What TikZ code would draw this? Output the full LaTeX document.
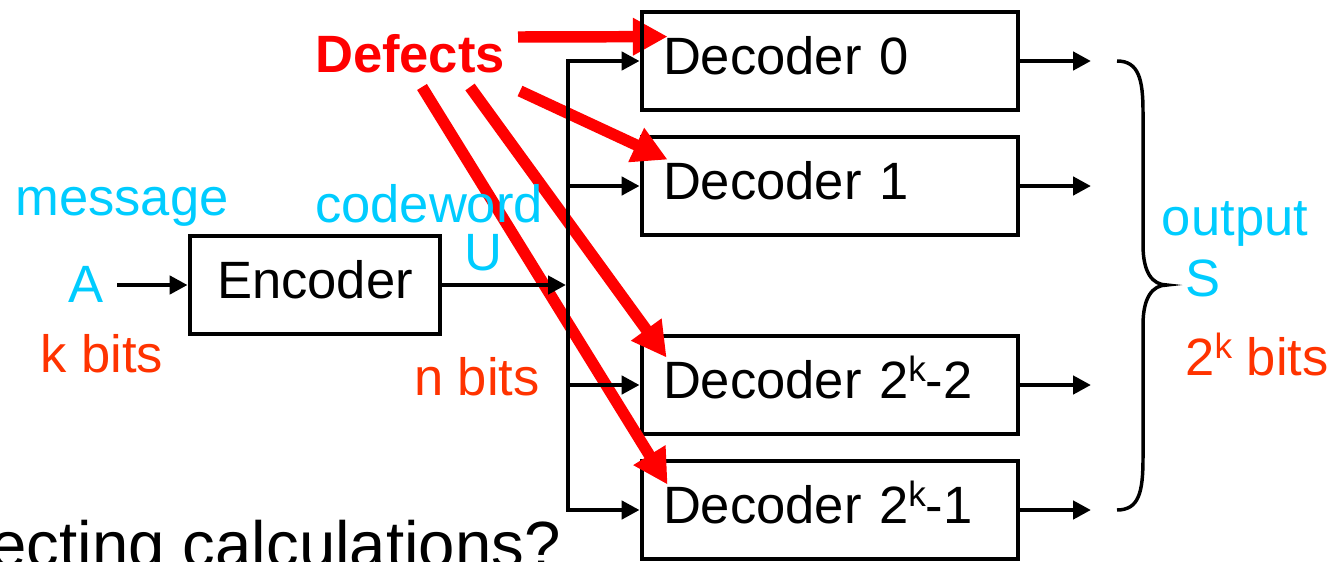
\documentclass[tikz,border=0pt]{standalone}
\usepackage{fontspec}
\setmainfont{Liberation Sans}
\usetikzlibrary{arrows.meta,calc}
\definecolor{skyc}{RGB}{0,204,255}
\definecolor{orng}{RGB}{255,51,0}
\definecolor{defred}{RGB}{255,0,0}
% raised small superscript used in the exponent 2^k
\newcommand\hisup[1]{\raisebox{0.32em}{\fontsize{26.4}{30}\selectfont #1}}
\pgfdeclarelayer{under}
\pgfdeclarelayer{defect}
\pgfsetlayers{under,defect,main}
\tikzset{
  lbl/.style={inner sep=0pt, font=\fontsize{39.4}{47}\selectfont},
  blockbox/.style={draw, line width=3.6pt, inner ysep=0pt, minimum height=73.5pt,
    text height=28pt, text depth=7.8pt, font=\fontsize{39.4}{47}\selectfont},
  decbox/.style={blockbox, inner xsep=15.75pt, text width=250.5pt, align=left,
    minimum width=282pt},
  wire/.style={line width=3.6pt},
  arr/.style={-{Triangle[length=13.5pt,width=13.5pt]}},
  hit/.style={draw=defred, line width=8.6pt, -{Triangle[length=26pt,width=26.5pt]}},
}
\begin{document}
\begin{tikzpicture}[x=0.75pt,y=-0.75pt]
\clip (0,0) rectangle (1334,561);

% ---- encoder side
\node[lbl, text=skyc, anchor=base] (msg) at (122,215) {message};
\node[lbl, text=skyc, anchor=base] (a) at (86,302) {A};
\node[lbl, text=orng, anchor=base] (kb) at (102,372) {k bits};
\node[blockbox, minimum width=187.5pt, inner xsep=0pt] (enc) at (315,285) {Encoder};
\coordinate (ain) at (117,285);
\draw[wire, arr] (ain) -- (enc.west);

\node[lbl, text=skyc, anchor=base] (cw) at (429,222) {codeword};
\node[lbl, text=skyc, anchor=base] (u) at (483,270) {U};
\node[lbl, text=orng, anchor=base] (nb) at (477,395) {n bits};

% ---- decoders
\node[decbox] (d0) at (830,61) {Decoder 0};
\begin{pgfonlayer}{under}
\node[decbox] (d1) at (830,186) {Decoder 1};
\node[decbox] (d2) at (830,385) {Decoder 2\hisup{k}-2};
\node[decbox] (d3) at (830,510) {Decoder 2\hisup{k}-1};
\end{pgfonlayer}

% ---- distribution bus
\coordinate (bx) at (568,285);
\draw[wire, {Triangle[length=13.5pt,width=13.5pt]}-{Triangle[length=13.5pt,width=13.5pt]}]
  (d0.west) -| (bx) |- (d3.west);
\draw[wire, arr] (d1.west -| bx) -- (d1.west);
\draw[wire, arr] (d2.west -| bx) -- (d2.west);
\draw[wire, arr, shorten >=1.5pt] (enc.east) -- (bx);

% ---- outputs
\coordinate (o0) at (1091,61);
\coordinate (o1) at (1091,186);
\coordinate (o2) at (1091,385);
\coordinate (o3) at (1091,510);
\draw[wire, arr] (d0.east) -- (o0);
\draw[wire, arr] (d1.east) -- (o1);
\draw[wire, arr] (d2.east) -- (o2);
\draw[wire, arr] (d3.east) -- (o3);

\draw[line width=2.6pt]
  (1117,61) .. controls (1139,61) and (1143,80) .. (1143,112)
  -- (1143,245) .. controls (1143,272) and (1152,285) .. (1167,285)
  .. controls (1152,285) and (1143,298) .. (1143,325)
  -- (1143,458) .. controls (1143,492) and (1139,510) .. (1117,510);

\node[lbl, text=skyc, anchor=base] (out) at (1235,235) {output};
\node[lbl, text=skyc, anchor=base] (s) at (1203,296) {S};
\node[lbl, text=orng, anchor=base] (tb) at (1257,375) {2\hisup{k} bits};

% ---- defects
\node[lbl, text=defred, font=\fontsize{39.4}{47}\selectfont\bfseries, anchor=base] (def) at (410,72) {Defects};
\coordinate (f0) at (518,37);
\coordinate (f1) at (520,91);
\coordinate (f2) at (470,87);
\coordinate (f3) at (422,87);
\begin{pgfonlayer}{defect}
\draw[hit] (f0) -- ($(d0.north west)+(28,27)$);
\draw[hit] (f1) -- ($(d1.north west)+(28,25)$);
\draw[hit] (f2) -- ($(d2.north west)+(27,24)$);
\draw[hit] (f3) -- ($(d3.north west)+(28,26)$);
\end{pgfonlayer}

% ---- caption line at the foot
\node[inner sep=0pt, anchor=base east, font=\fontsize{49}{58}\selectfont] (cap) at (561,567) {ecting calculations?};
\end{tikzpicture}
\end{document}
